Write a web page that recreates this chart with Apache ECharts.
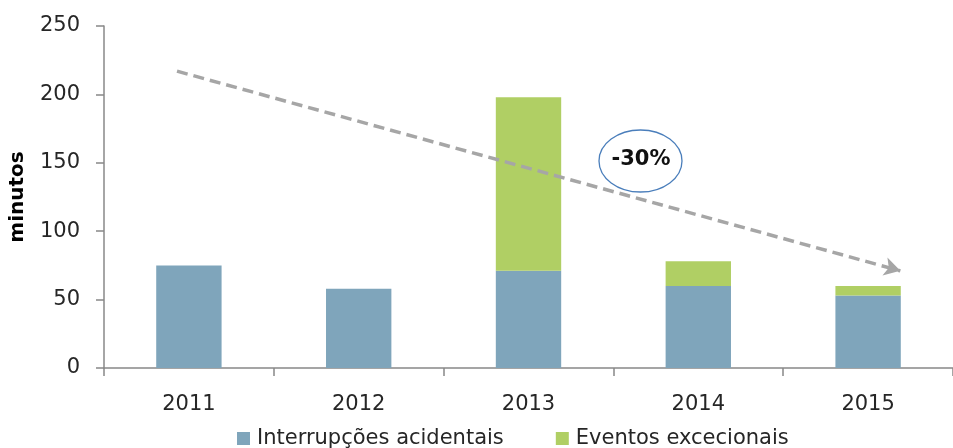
<!DOCTYPE html>
<html>
<head>
<meta charset="utf-8">
<script src="https://cdn.jsdelivr.net/npm/echarts@6/dist/echarts.min.js"></script>
<style>
html,body{margin:0;padding:0;background:#fff;}
#chart{width:953px;height:448px;}
</style>
</head>
<body>
<div id="chart"></div>
<script>
var categories = ['2011', '2012', '2013', '2014', '2015'];
var interrupcoes = [75, 58, 71, 60, 53];
var eventos = [0, 0, 127, 18, 7];
var yTicks = [0, 50, 100, 150, 200, 250];
var trendStart = [-0.07, 217];
var trendEnd = [4.19, 71];
var trendLabel = '-30%';

var chart = echarts.init(document.getElementById('chart'));
var FONT = '"DejaVu Sans", sans-serif';
chart.setOption({
  animation: false,
  backgroundColor: '#ffffff',
  grid: { left: 102, top: 26, bottom: 80, right: -7, containLabel: false },
  legend: {
    data: ['Interrupções acidentais', 'Eventos excecionais'],
    left: 237, top: 428, padding: 0,
    itemWidth: 13, itemHeight: 13, itemGap: 52,
    icon: 'rect',
    textStyle: { fontFamily: FONT, fontSize: 21, color: '#262626', padding: [0, 0, 0, 2] }
  },
  xAxis: [{
    type: 'category',
    data: categories,
    axisLine: { onZero: false, lineStyle: { color: '#888', width: 1.5 } },
    axisTick: { show: true, length: 8, lineStyle: { color: '#888', width: 1.5 } },
    axisLabel: { fontFamily: FONT, fontSize: 21, color: '#262626', margin: 26 }
  }, {
    type: 'value', min: -0.5, max: 4.5, show: false
  }],
  yAxis: {
    type: 'value',
    min: yTicks[0], max: yTicks[yTicks.length - 1], interval: 50,
    name: 'minutos',
    nameLocation: 'middle',
    nameGap: 76,
    nameTextStyle: { fontFamily: FONT, fontSize: 20, fontWeight: 'bold', color: '#000' },
    axisLine: { show: true, onZero: false, lineStyle: { color: '#888', width: 1.5 } },
    axisTick: { show: true, length: 8, lineStyle: { color: '#888', width: 1.5 } },
    splitLine: { show: false },
    axisLabel: { fontFamily: FONT, fontSize: 21, color: '#262626', margin: 24 }
  },
  series: [{
    name: 'Interrupções acidentais',
    type: 'bar', stack: 'total',
    barWidth: '38.5%',
    itemStyle: { color: '#7fa5bb' },
    data: interrupcoes
  }, {
    name: 'Eventos excecionais',
    type: 'bar', stack: 'total',
    barWidth: '38.5%',
    itemStyle: { color: '#b0cf64' },
    data: eventos
  }, {
    name: 'trend',
    type: 'line',
    xAxisIndex: 1,
    showSymbol: false,
    silent: true,
    lineStyle: { opacity: 0 },
    data: [trendStart, trendEnd],
    markLine: {
      silent: true,
      symbol: ['none', 'arrow'],
      symbolSize: [14, 16],
      label: { show: false },
      lineStyle: { color: '#a6a6a6', width: 3.5, type: [11, 6] },
      data: [[{ coord: trendStart }, { coord: trendEnd }]]
    }
  }],
  graphic: [{
    type: 'ellipse',
    shape: { cx: 640.5, cy: 161, rx: 41.5, ry: 31 },
    style: { fill: '#fff', stroke: '#4a7ebb', lineWidth: 1.3 },
    z: 100
  }, {
    type: 'text',
    x: 641, y: 160,
    style: { text: trendLabel, fontFamily: FONT, fontSize: 21, fontWeight: 'bold', fill: '#111', align: 'center', verticalAlign: 'middle' },
    z: 101
  }]
});
</script>
</body>
</html>
